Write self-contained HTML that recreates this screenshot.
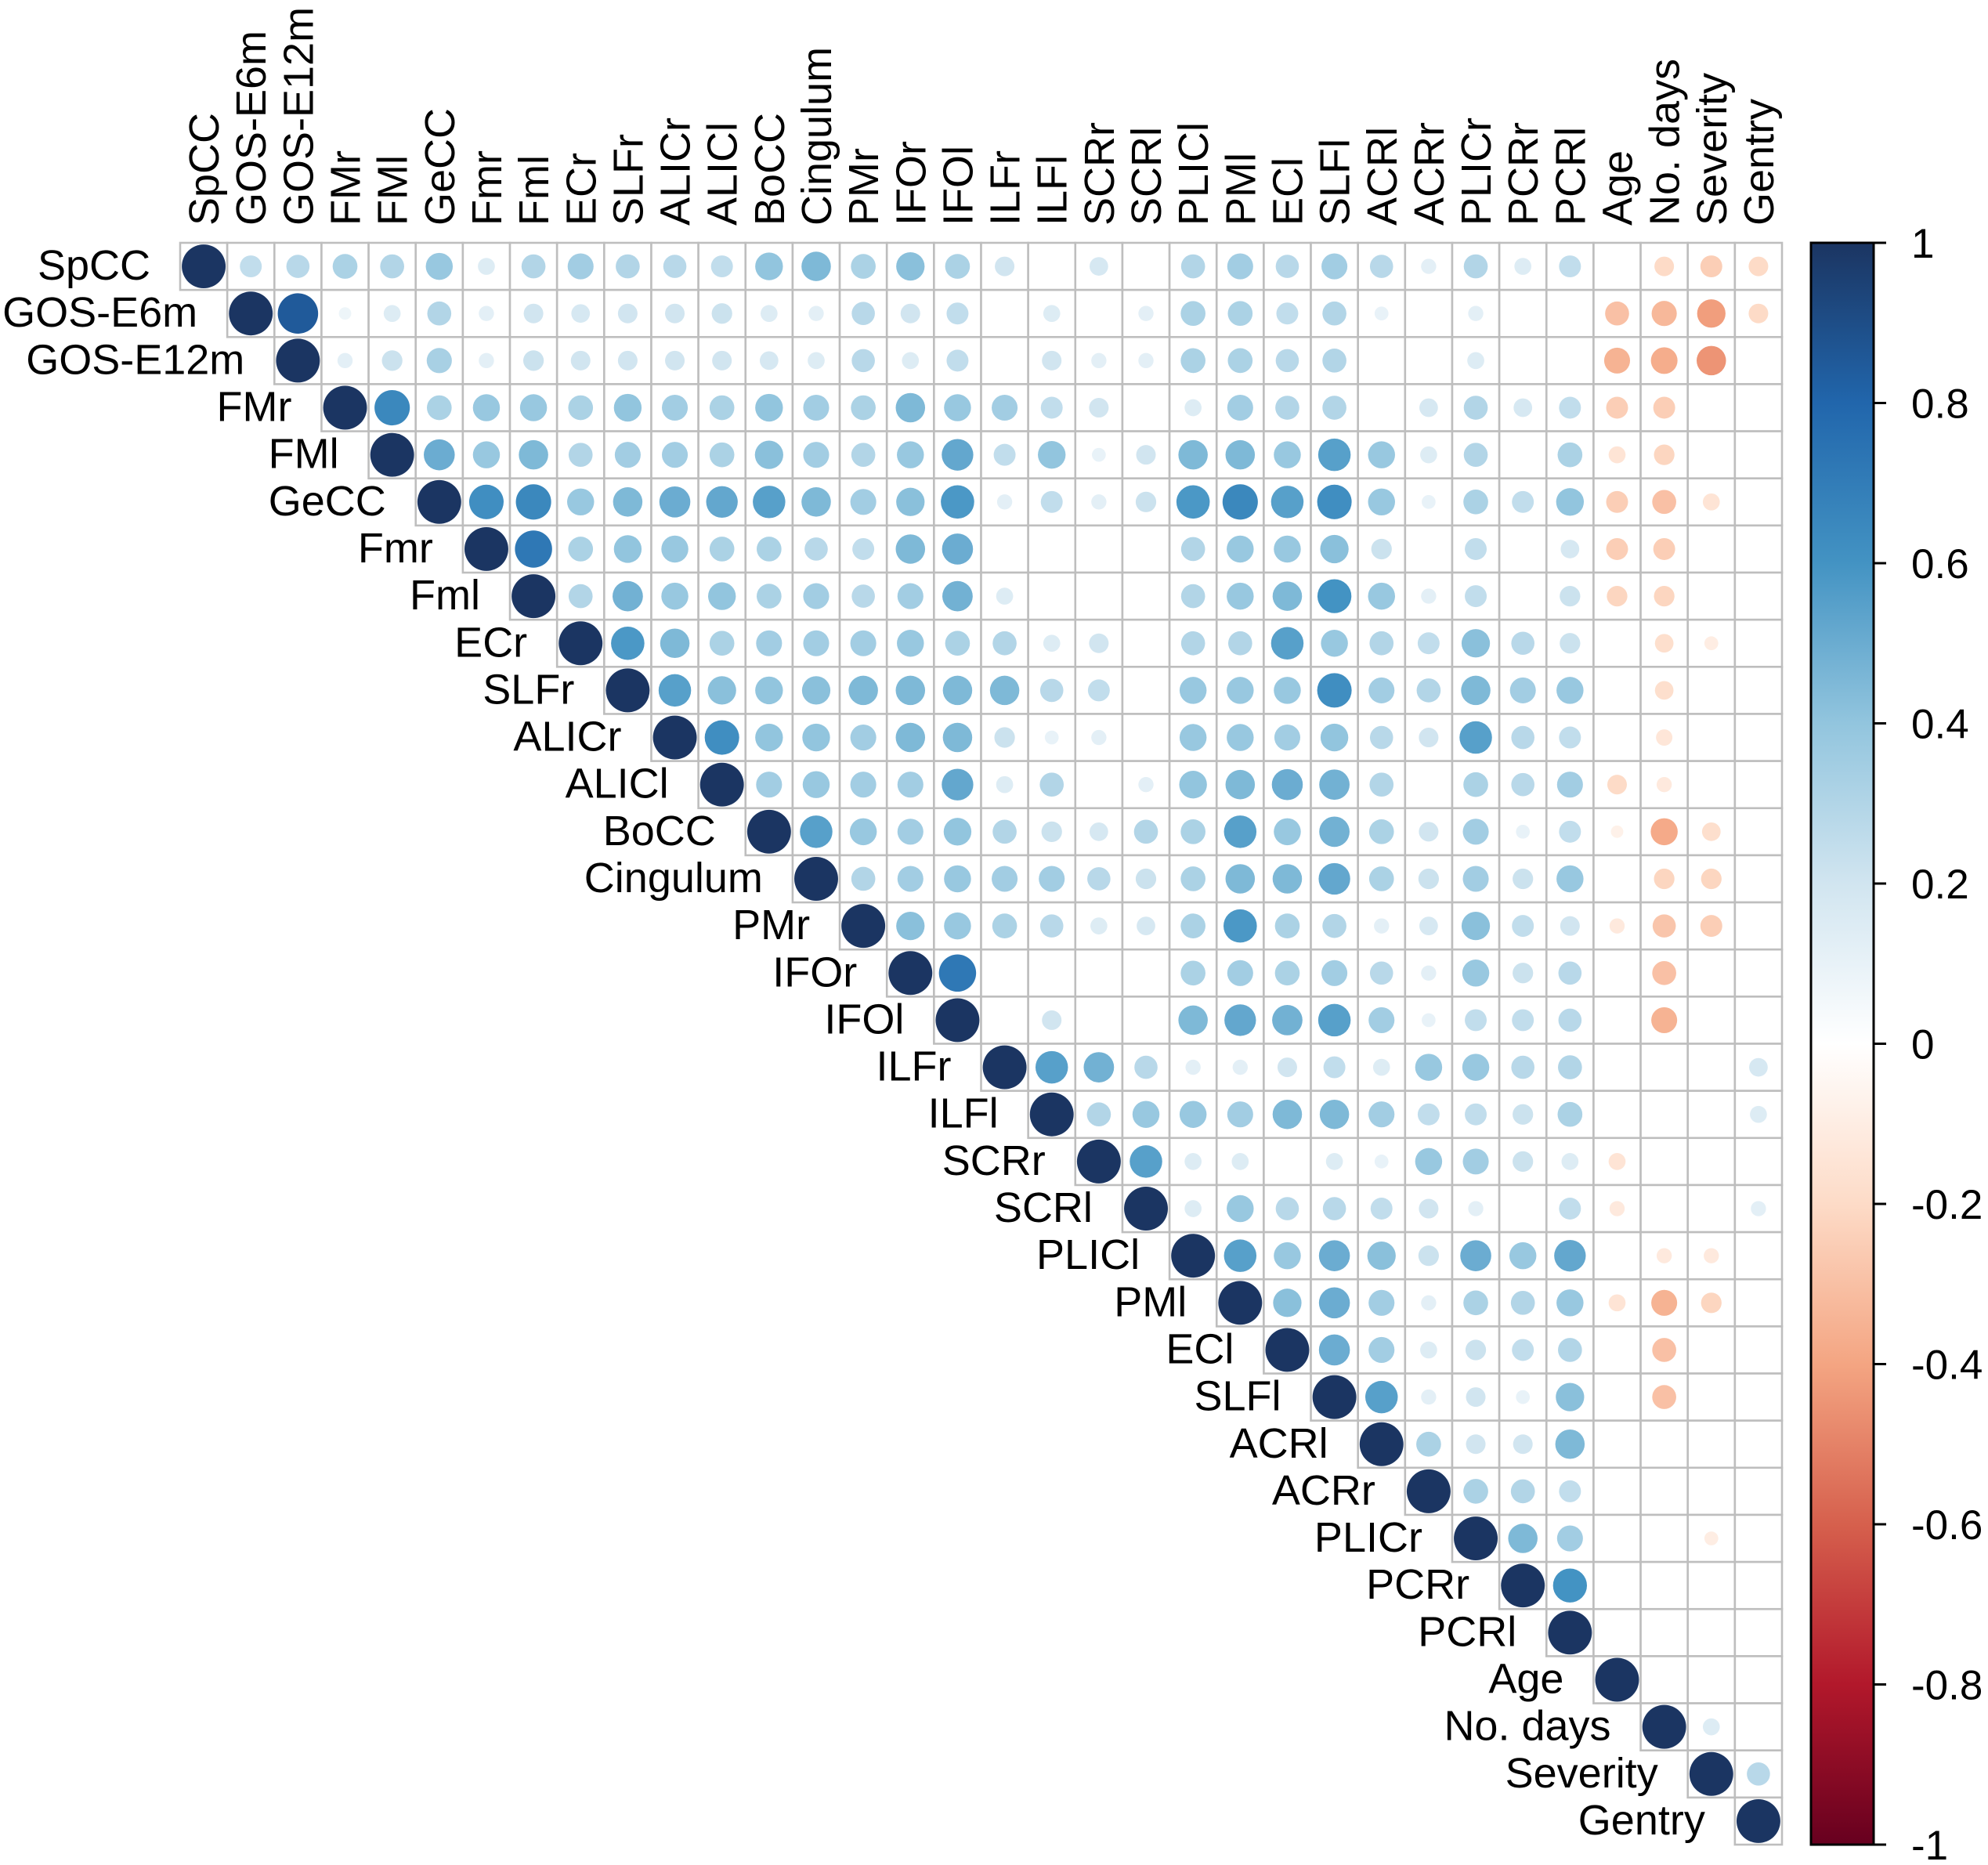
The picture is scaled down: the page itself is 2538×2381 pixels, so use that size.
<!DOCTYPE html>
<html><head><meta charset="utf-8"><style>
html,body{margin:0;padding:0;background:#fff;}
svg{display:block;font-family:"Liberation Sans",Arial,sans-serif;}
</style></head><body>
<svg id="chart" width="2538" height="2381" viewBox="0 0 2538 2381" xmlns="http://www.w3.org/2000/svg">
<defs>
<linearGradient id="cbgrad" x1="0" y1="0" x2="0" y2="1">
<stop offset="0" stop-color="#1b3562"/><stop offset="0.1" stop-color="#2166AC"/><stop offset="0.2" stop-color="#4393C3"/><stop offset="0.3" stop-color="#92C5DE"/><stop offset="0.4" stop-color="#D1E5F0"/><stop offset="0.5" stop-color="#FFFFFF"/><stop offset="0.6" stop-color="#FDDBC7"/><stop offset="0.7" stop-color="#F4A582"/><stop offset="0.8" stop-color="#D6604D"/><stop offset="0.9" stop-color="#B2182B"/><stop offset="1" stop-color="#67001F"/>
</linearGradient>
</defs>
<g id="cells"></g>
<g id="circles"></g>
<g id="collabels"></g>
<g id="rowlabels"></g>
<g id="colorbar"></g>
</svg>
<script>
const labels = ["SpCC","GOS-E6m","GOS-E12m","FMr","FMl","GeCC","Fmr","Fml","ECr","SLFr","ALICr","ALICl","BoCC","Cingulum","PMr","IFOr","IFOl","ILFr","ILFl","SCRr","SCRl","PLICl","PMl","ECl","SLFl","ACRl","ACRr","PLICr","PCRr","PCRl","Age","No. days","Severity","Gentry"];
// upper triangle values per row, starting at column i+1
const corrRows = [
[.25,.28,.32,.3,.38,.15,.3,.35,.3,.28,.25,.4,.45,.32,.42,.32,.2,0,.18,0,.3,.35,.28,.35,.28,.12,.3,.15,.25,0,-.2,-.25,-.2],
[.85,.08,.15,.3,.12,.2,.18,.2,.2,.22,.15,.12,.28,.2,.25,0,.15,0,.12,.32,.32,.25,.3,.1,0,.12,0,0,-.3,-.33,-.42,-.2],
[.12,.22,.33,.12,.22,.2,.2,.2,.2,.18,.15,.28,.15,.25,0,.2,.12,.12,.32,.32,.28,.3,0,0,.15,0,0,-.35,-.37,-.45,0],
[.65,.32,.38,.38,.32,.4,.35,.32,.4,.35,.32,.45,.38,.35,.25,.2,0,.15,.35,.3,.3,0,.18,.3,.18,.25,-.25,-.25,0,0],
[.5,.38,.45,.3,.35,.35,.32,.42,.35,.3,.38,.52,.25,.4,.1,.2,.45,.45,.38,.55,.38,.15,.3,0,.32,-.15,-.22,0,0],
[.62,.65,.38,.45,.5,.52,.55,.45,.35,.42,.58,.12,.25,.12,.22,.58,.65,.55,.62,.38,.1,.32,.25,.4,-.25,-.3,-.15,0],
[.72,.32,.4,.38,.32,.32,.28,.25,.45,.5,0,0,0,0,.3,.38,.38,.42,.22,0,.25,0,.18,-.25,-.25,0,0],
[.3,.48,.38,.4,.32,.35,.28,.35,.48,.15,0,0,0,.3,.38,.45,.6,.38,.12,.25,0,.22,-.22,-.22,0,0],
[.58,.45,.32,.35,.35,.35,.38,.32,.3,.15,.2,0,.3,.3,.55,.38,.3,.25,.42,.28,.22,0,-.18,-.1,0],
[.55,.42,.4,.42,.45,.45,.45,.45,.28,.25,0,.38,.38,.38,.62,.35,.3,.45,.35,.38,0,-.18,0,0],
[.62,.4,.4,.35,.45,.45,.22,.1,.12,0,.38,.38,.35,.4,.28,.2,.55,.28,.25,0,-.14,0,0],
[.35,.38,.35,.35,.52,.15,.3,0,.12,.4,.45,.5,.48,.3,0,.32,.28,.35,-.2,-.12,0,0],
[.55,.38,.35,.4,.3,.22,.18,.3,.32,.55,.38,.48,.32,.2,.35,.1,.25,-.08,-.38,-.18,0],
[.3,.35,.38,.35,.35,.28,.22,.32,.45,.45,.52,.32,.22,.35,.22,.38,0,-.22,-.22,0],
[.42,.38,.32,.28,.15,.18,.32,.58,.32,.3,.12,.18,.42,.25,.2,-.12,-.28,-.25,0],
[.72,0,0,0,0,.32,.35,.32,.35,.28,.12,.38,.22,.28,0,-.3,0,0],
[0,.2,0,0,.45,.52,.48,.55,.35,.1,.25,.25,.28,0,-.35,0,0],
[.55,.48,.28,.12,.12,.2,.25,.15,.38,.38,.28,.3,0,0,0,.18],
[.3,.38,.38,.35,.45,.45,.35,.25,.25,.22,.32,0,0,0,.15],
[.55,.15,.15,0,.15,.1,.38,.35,.22,.15,-.15,0,0,0],
[.15,.38,.28,.28,.25,.2,.12,0,.25,-.12,0,0,.12],
[.55,.38,.5,.42,.22,.5,.38,.52,0,-.12,-.12,0],
[.42,.5,.35,.12,.32,.3,.38,-.15,-.35,-.22,0],
[.5,.35,.15,.22,.25,.3,0,-.3,0,0],
[.55,.12,.2,.1,.42,0,-.3,0,0],
[.32,.2,.2,.45,0,0,0,0],
[.32,.3,.25,0,0,0,0],
[.45,.35,0,0,-.1,0],
[.6,0,0,0,0],
[0,0,0,0],
[0,0,0],
[.15,0],
[.28],
[]
];
const tickValues = [1,0.8,0.6,0.4,0.2,0,-0.2,-0.4,-0.6,-0.8,-1];
const tickLabels = ["1","0.8","0.6","0.4","0.2","0","-0.2","-0.4","-0.6","-0.8","-1"];

const NS = "http://www.w3.org/2000/svg";
const N = labels.length;
const x0 = 230, y0 = 310, cell = 2045 / N;
const cx = j => x0 + (j + 0.5) * cell;
const cy = i => y0 + (i + 0.5) * cell;
const palette = ["#67001F","#B2182B","#D6604D","#F4A582","#FDDBC7","#FFFFFF","#D1E5F0","#92C5DE","#4393C3","#2166AC","#1b3562"];
function hex(h){return [parseInt(h.slice(1,3),16),parseInt(h.slice(3,5),16),parseInt(h.slice(5,7),16)];}
function colorOf(v){
  const t = (Math.max(-1,Math.min(1,v)) + 1) / 2 * 10;
  const k = Math.min(9, Math.floor(t)), f = t - k;
  const a = hex(palette[k]), b = hex(palette[k+1]);
  return "rgb(" + a.map((c,m)=>Math.round(c + (b[m]-c)*f)).join(",") + ")";
}
function mk(tag, attrs, parent){const e=document.createElementNS(NS,tag);for(const k in attrs)e.setAttribute(k,attrs[k]);parent.appendChild(e);return e;}
function val(i,j){ if(i===j) return 1; const r=corrRows[i]; const v=r[j-i-1]; return v===undefined?0:v; }

const gCells = document.getElementById("cells");
const gCirc = document.getElementById("circles");
for (let i = 0; i < N; i++) {
  for (let j = i; j < N; j++) {
    const r = mk("rect",{x:x0+j*cell,y:y0+i*cell,width:cell,height:cell,fill:"#fff",stroke:"#bebebe","stroke-width":2.6},gCells);
    
    
  }
}
for (let i = 0; i < N; i++) {
  for (let j = i; j < N; j++) {
    const v = val(i,j);
    if (v === 0) continue;
    const c = mk("circle",{cx:cx(j),cy:cy(i),r:0.465*cell*Math.sqrt(Math.abs(v)),fill:colorOf(v)},gCirc);
    
    
  }
}
const gCol = document.getElementById("collabels");
const gRow = document.getElementById("rowlabels");
for (let j = 0; j < N; j++) {
  const t = mk("text",{x:0,y:0,transform:"translate("+(cx(j)+19)+",288) rotate(-90)","font-size":54},gCol);
  t.textContent = labels[j];
  
  
}
for (let i = 0; i < N; i++) {
  const t = mk("text",{x:x0+i*cell-38,y:cy(i)+17,"font-size":54,"text-anchor":"end"},gRow);
  t.textContent = labels[i];
  
  
}
const gCb = document.getElementById("colorbar");
const cbx = 2312, cbw = 80, cbt = 310, cbb = 2355;
const bar = mk("rect",{x:cbx,y:cbt,width:cbw,height:cbb-cbt,fill:"url(#cbgrad)",stroke:"#000","stroke-width":3},gCb);


const cbY = v => cbt + (1 - v) / 2 * (cbb - cbt);
for (let k = 0; k < tickValues.length; k++) {
  const y = cbY(tickValues[k]);
  const l = mk("line",{x1:cbx+cbw,x2:cbx+cbw+16,y1:y,y2:y,stroke:"#000","stroke-width":3},gCb);
  
  
  const t = mk("text",{x:2440,y:y+19,"font-size":53},gCb);
  t.textContent = tickLabels[k];
  
  
}
</script>
</body></html>
